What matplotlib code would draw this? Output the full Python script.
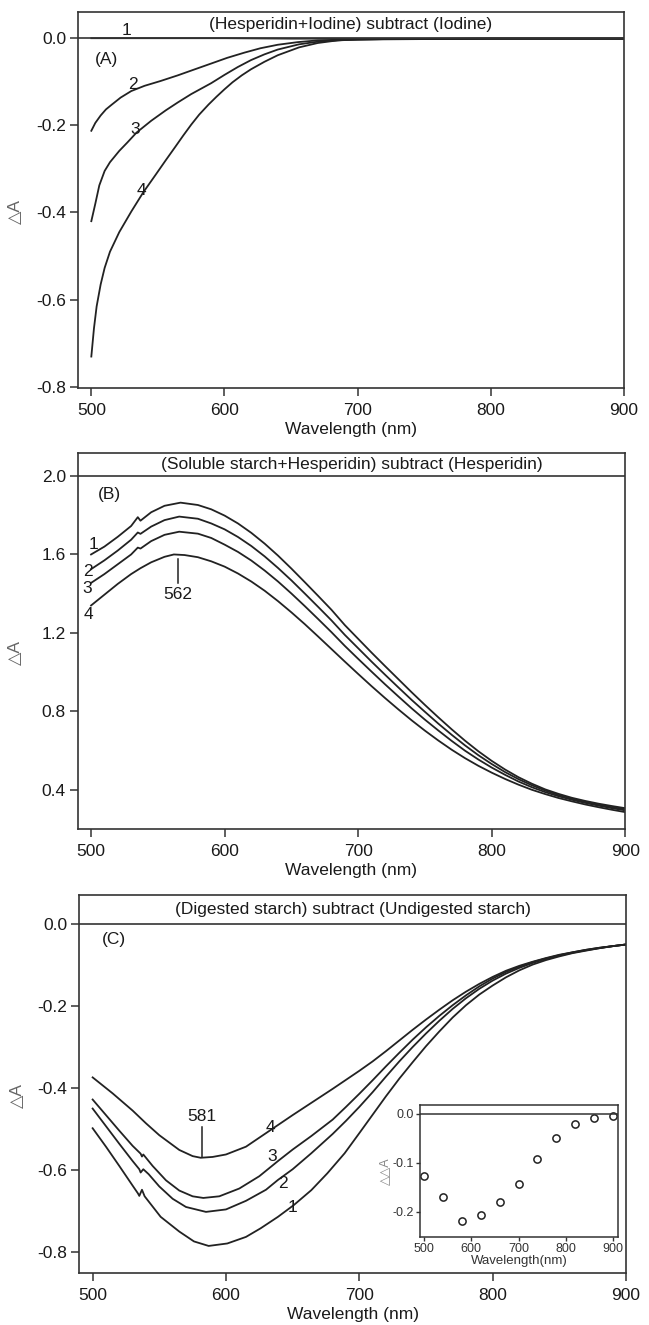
import matplotlib
matplotlib.use("Agg")
import matplotlib.pyplot as plt
import matplotlib.transforms as mtransforms

plt.rcParams['font.family'] = ['Liberation Sans', 'DejaVu Sans']
plt.rcParams['axes.unicode_minus'] = False

# ---------------- Panel A data ----------------
A_wl_1 = [500, 550, 600, 650, 700, 750, 800, 850, 900]
A_1 = [-0.001, -0.001, -0.001, -0.002, -0.002, -0.002, -0.002, -0.002, -0.002]
A_wl_2 = [500, 503, 507, 511, 515, 522, 530, 540, 552, 565, 577, 590, 602, 615, 627, 640, 655, 670, 690, 720, 800, 900]
A_2 = [-0.213, -0.195, -0.178, -0.164, -0.154, -0.137, -0.122, -0.110, -0.099, -0.086, -0.073, -0.059,
       -0.046, -0.034, -0.024, -0.016, -0.010, -0.006, -0.004, -0.003, -0.002, -0.002]
A_wl_3 = [500, 503, 506, 510, 514, 521, 527, 534, 545, 556, 565, 575, 590, 600, 610, 620, 630, 640, 656, 670, 690, 720, 800, 900]
A_3 = [-0.420, -0.380, -0.338, -0.305, -0.285, -0.259, -0.240, -0.217, -0.190, -0.166, -0.148, -0.129,
       -0.104, -0.085, -0.067, -0.051, -0.038, -0.027, -0.015, -0.009, -0.005, -0.003, -0.002, -0.002]
A_wl_4 = [500, 502, 504, 507, 510, 514, 521, 530, 539, 548, 556, 563, 569, 575, 581, 588, 594, 600, 606, 613,
          620, 630, 640, 656, 670, 685, 700, 750, 800, 900]
A_4 = [-0.730, -0.665, -0.615, -0.565, -0.527, -0.490, -0.445, -0.398, -0.354, -0.315, -0.280, -0.250, -0.224,
       -0.199, -0.176, -0.153, -0.135, -0.118, -0.102, -0.086, -0.072, -0.055, -0.040, -0.022, -0.012, -0.006,
       -0.004, -0.003, -0.002, -0.002]

# ---------------- Panel B data ----------------
B_wl_1 = [500, 510, 520, 530, 535, 537, 545, 555, 567, 580, 590, 600, 610, 620, 630, 640, 650, 660, 670, 680, 690,
          700, 710, 720, 730, 740, 750, 760, 770, 780, 790, 800, 810, 820, 830, 840, 850, 860, 870, 880, 890, 900]
B_1 = [1.600, 1.640, 1.690, 1.745, 1.790, 1.772, 1.815, 1.848, 1.864, 1.852, 1.830, 1.798, 1.758, 1.710, 1.655,
       1.594, 1.528, 1.459, 1.389, 1.318, 1.240, 1.170, 1.100, 1.032, 0.965, 0.898, 0.833, 0.770, 0.709, 0.651,
       0.597, 0.548, 0.504, 0.465, 0.432, 0.403, 0.380, 0.360, 0.344, 0.330, 0.318, 0.307]
B_wl_2 = [500, 510, 520, 530, 535, 537, 545, 555, 566, 580, 590, 600, 610, 620, 630, 640, 650, 660, 670, 680, 690,
          700, 710, 720, 730, 740, 750, 760, 770, 780, 790, 800, 810, 820, 830, 840, 850, 860, 870, 880, 890, 900]
B_2 = [1.525, 1.570, 1.620, 1.675, 1.712, 1.705, 1.742, 1.775, 1.793, 1.782, 1.758, 1.728, 1.689, 1.643, 1.590,
       1.531, 1.468, 1.401, 1.333, 1.264, 1.190, 1.122, 1.054, 0.988, 0.923, 0.859, 0.798, 0.738, 0.681, 0.627,
       0.577, 0.532, 0.491, 0.455, 0.424, 0.397, 0.374, 0.355, 0.339, 0.325, 0.312, 0.302]
B_wl_3 = [500, 510, 520, 530, 535, 537, 545, 555, 566, 580, 590, 600, 610, 620, 630, 640, 650, 660, 670, 680, 690,
          700, 710, 720, 730, 740, 750, 760, 770, 780, 790, 800, 810, 820, 830, 840, 850, 860, 870, 880, 890, 900]
B_3 = [1.455, 1.500, 1.550, 1.600, 1.635, 1.630, 1.668, 1.700, 1.716, 1.706, 1.684, 1.650, 1.613, 1.569, 1.518,
       1.462, 1.401, 1.337, 1.271, 1.204, 1.134, 1.068, 1.003, 0.939, 0.877, 0.816, 0.758, 0.703, 0.650, 0.600,
       0.555, 0.514, 0.477, 0.443, 0.414, 0.389, 0.368, 0.350, 0.334, 0.320, 0.307, 0.296]
B_wl_4 = [500, 510, 520, 530, 537, 545, 555, 562, 570, 580, 590, 600, 610, 620, 630, 640, 650, 660, 670, 680, 690,
          700, 710, 720, 730, 740, 750, 760, 770, 780, 790, 800, 810, 820, 830, 840, 850, 860, 870, 880, 890, 900]
B_4 = [1.340, 1.395, 1.450, 1.500, 1.530, 1.560, 1.588, 1.600, 1.597, 1.586, 1.565, 1.538, 1.503, 1.462, 1.415,
       1.362, 1.305, 1.245, 1.182, 1.118, 1.054, 0.991, 0.929, 0.869, 0.811, 0.755, 0.702, 0.652, 0.605, 0.562,
       0.523, 0.488, 0.456, 0.427, 0.401, 0.379, 0.359, 0.342, 0.326, 0.312, 0.299, 0.287]

# ---------------- Panel C data ----------------
C_wl_1 = [500, 510, 520, 530, 534, 535, 537, 539, 551, 565, 576, 587, 601, 615, 626, 639, 651, 664, 676, 689, 700,
          710, 720, 730, 740, 750, 760, 770, 780, 790, 800, 810, 820, 830, 840, 850, 860, 870, 880, 890, 900]
C_1 = [-0.498, -0.543, -0.590, -0.638, -0.657, -0.663, -0.648, -0.664, -0.714, -0.750, -0.774, -0.785, -0.779,
       -0.763, -0.742, -0.714, -0.685, -0.649, -0.608, -0.559, -0.510, -0.465, -0.420, -0.377, -0.337, -0.298,
       -0.262, -0.228, -0.198, -0.172, -0.150, -0.130, -0.113, -0.099, -0.088, -0.079, -0.071, -0.065, -0.059,
       -0.054, -0.050]
C_wl_2 = [500, 510, 520, 530, 535, 536, 538, 542, 550, 560, 570, 585, 600, 615, 630, 639, 650, 664, 680, 690, 700,
          710, 720, 730, 740, 750, 760, 770, 780, 790, 800, 810, 820, 830, 840, 850, 860, 870, 880, 890, 900]
C_2 = [-0.450, -0.493, -0.536, -0.578, -0.598, -0.606, -0.598, -0.610, -0.640, -0.670, -0.690, -0.702, -0.696,
       -0.675, -0.648, -0.624, -0.598, -0.559, -0.512, -0.480, -0.446, -0.410, -0.372, -0.335, -0.300, -0.267,
       -0.236, -0.207, -0.181, -0.158, -0.138, -0.121, -0.107, -0.095, -0.085, -0.077, -0.070, -0.064, -0.059,
       -0.054, -0.050]
C_wl_3 = [500, 510, 520, 530, 536, 537, 538, 545, 555, 565, 575, 583, 595, 610, 625, 639, 650, 664, 680, 690, 700,
          710, 720, 730, 740, 750, 760, 770, 780, 790, 800, 810, 820, 830, 840, 850, 860, 870, 880, 890, 900]
C_3 = [-0.428, -0.466, -0.504, -0.541, -0.560, -0.567, -0.562, -0.590, -0.625, -0.650, -0.664, -0.668, -0.664,
       -0.645, -0.615, -0.578, -0.550, -0.517, -0.477, -0.446, -0.414, -0.381, -0.347, -0.314, -0.282, -0.252,
       -0.224, -0.198, -0.174, -0.152, -0.133, -0.117, -0.104, -0.093, -0.084, -0.076, -0.069, -0.063, -0.058,
       -0.054, -0.050]
C_wl_4 = [500, 515, 530, 540, 550, 565, 575, 581, 590, 600, 615, 630, 640, 650, 665, 680, 690, 700, 710, 720, 730,
          740, 750, 760, 770, 780, 790, 800, 810, 820, 830, 840, 850, 860, 870, 880, 890, 900]
C_4 = [-0.374, -0.413, -0.455, -0.486, -0.515, -0.551, -0.566, -0.570, -0.568, -0.562, -0.543, -0.510, -0.488,
       -0.466, -0.434, -0.402, -0.380, -0.358, -0.335, -0.310, -0.284, -0.258, -0.233, -0.209, -0.186, -0.165,
       -0.146, -0.129, -0.114, -0.102, -0.092, -0.083, -0.075, -0.069, -0.063, -0.058, -0.054, -0.050]

# ---------------- Inset data ----------------
inset_wl = [500, 540, 580, 620, 660, 700, 740, 780, 820, 860, 900]
inset_dda = [-0.126, -0.169, -0.218, -0.207, -0.180, -0.142, -0.093, -0.049, -0.020, -0.0075, -0.004]

titles = ["(Hesperidin+Iodine) subtract (Iodine)",
          "(Soluble starch+Hesperidin) subtract (Hesperidin)",
          "(Digested starch) subtract (Undigested starch)"]
panel_tags = ["(A)", "(B)", "(C)"]
xticks = [500, 600, 700, 800, 900]
A_yticks = [0.0, -0.2, -0.4, -0.6, -0.8]
B_yticks = [2.0, 1.6, 1.2, 0.8, 0.4]
C_yticks = [0.0, -0.2, -0.4, -0.6, -0.8]
inset_xticks = [500, 600, 700, 800, 900]
inset_yticks = [0.0, -0.1, -0.2]

W, H = 649, 1325
fig = plt.figure(figsize=(W / 100, H / 100), dpi=100)

def rect(l, t, r, b):
    return [l / W, 1 - b / H, (r - l) / W, (b - t) / H]

FS = 12.5
LC = '#222222'
SC = '#333333'
TC = '#1a1a1a'

def style(ax, ylim, yticks, baseline, title):
    ax.set_xlim(490, 900)
    ax.set_ylim(*ylim)
    ax.set_xticks(xticks)
    ax.set_yticks(yticks)
    ax.set_yticklabels([f"{v:.1f}" for v in yticks])
    ax.tick_params(direction='out', length=6, width=1.1, labelsize=FS, colors=SC, labelcolor=TC)
    ax.tick_params(axis='x', pad=4.5)
    ax.tick_params(axis='y', pad=2.5)
    for s in ax.spines.values():
        s.set_linewidth(1.2)
        s.set_color(SC)
    ax.axhline(baseline, color=SC, lw=1.2, zorder=3)
    trans = mtransforms.blended_transform_factory(ax.transAxes, ax.transData)
    ax.text(0.5, (ylim[1] + baseline) / 2, title, transform=trans,
            ha='center', va='center', fontsize=FS, color=TC)
    ax.set_xlabel("Wavelength (nm)", fontsize=FS, color=TC)
    ax.xaxis.set_label_coords(0.5, -0.091)
    ax.set_ylabel("\u25b3A", fontsize=FS, color='#666666')
    ax.yaxis.set_label_coords(-0.10, 0.47)

# Panel A
axA = fig.add_axes(rect(78, 12, 624, 388))
style(axA, (-0.802, 0.059), A_yticks, 0.0, titles[0])
for wl, v in [(A_wl_1, A_1), (A_wl_2, A_2), (A_wl_3, A_3), (A_wl_4, A_4)]:
    axA.plot(wl, v, color=LC, lw=1.3)
axA.text(503, -0.05, panel_tags[0], fontsize=FS, color=TC, va='center')
for lab, x, y in [("1", 526.5, 0.016), ("2", 531, -0.108), ("3", 533, -0.210), ("4", 538, -0.350)]:
    axA.text(x, y, lab, fontsize=FS, ha='center', va='center', color=TC)

# Panel B
axB = fig.add_axes(rect(77.7, 453, 625.3, 829))
style(axB, (0.201, 2.117), B_yticks, 2.0, titles[1])
for wl, v in [(B_wl_1, B_1), (B_wl_2, B_2), (B_wl_3, B_3), (B_wl_4, B_4)]:
    axB.plot(wl, v, color=LC, lw=1.3)
axB.text(505, 1.903, panel_tags[1], fontsize=FS, color=TC, va='center')
for lab, x, y in [("1", 502, 1.650), ("2", 497.5, 1.512), ("3", 497, 1.428), ("4", 498, 1.292)]:
    axB.text(x, y, lab, fontsize=FS, ha='center', va='center', color=TC)
axB.plot([565, 565], [1.575, 1.455], color=LC, lw=1.1)
axB.text(565, 1.394, "562", fontsize=FS, ha='center', va='center', color=TC)

# Panel C
axC = fig.add_axes(rect(79.3, 895, 626, 1273))
style(axC, (-0.851, 0.0707), C_yticks, 0.0, titles[2])
for wl, v in [(C_wl_1, C_1), (C_wl_2, C_2), (C_wl_3, C_3), (C_wl_4, C_4)]:
    axC.plot(wl, v, color=LC, lw=1.3)
axC.text(507, -0.039, panel_tags[2], fontsize=FS, color=TC, va='center')
for lab, x, y in [("4", 633.5, -0.496), ("3", 634.5, -0.566), ("2", 643, -0.633), ("1", 650, -0.692)]:
    axC.text(x, y, lab, fontsize=FS, ha='center', va='center', color=TC)
axC.plot([582, 582], [-0.568, -0.494], color=LC, lw=1.1)
axC.text(582, -0.470, "581", fontsize=FS, ha='center', va='center', color=TC)

# Inset
axI = fig.add_axes(rect(420, 1105, 618, 1237))
axI.plot(inset_wl, inset_dda, linestyle='none', marker='o', markersize=5.2,
         markerfacecolor='none', markeredgecolor='#222222', markeredgewidth=1.1)
axI.axhline(0.0, color=SC, lw=1.1)
axI.set_xlim(491.5, 910.6)
axI.set_ylim(-0.251, 0.018)
axI.set_xticks(inset_xticks)
axI.set_yticks(inset_yticks)
axI.set_yticklabels([f"{v:.1f}" for v in inset_yticks])
axI.tick_params(direction='out', length=3, width=1.0, labelsize=9, colors=SC, labelcolor='#333333', pad=1.5)
for s in axI.spines.values():
    s.set_linewidth(1.1)
    s.set_color(SC)
axI.set_xlabel("Wavelength(nm)", fontsize=9.5, color='#333333', labelpad=0)
axI.set_ylabel("\u25b3\u25b3A", fontsize=9, color='#888888', labelpad=1)

fig.savefig("out.png", dpi=100)
